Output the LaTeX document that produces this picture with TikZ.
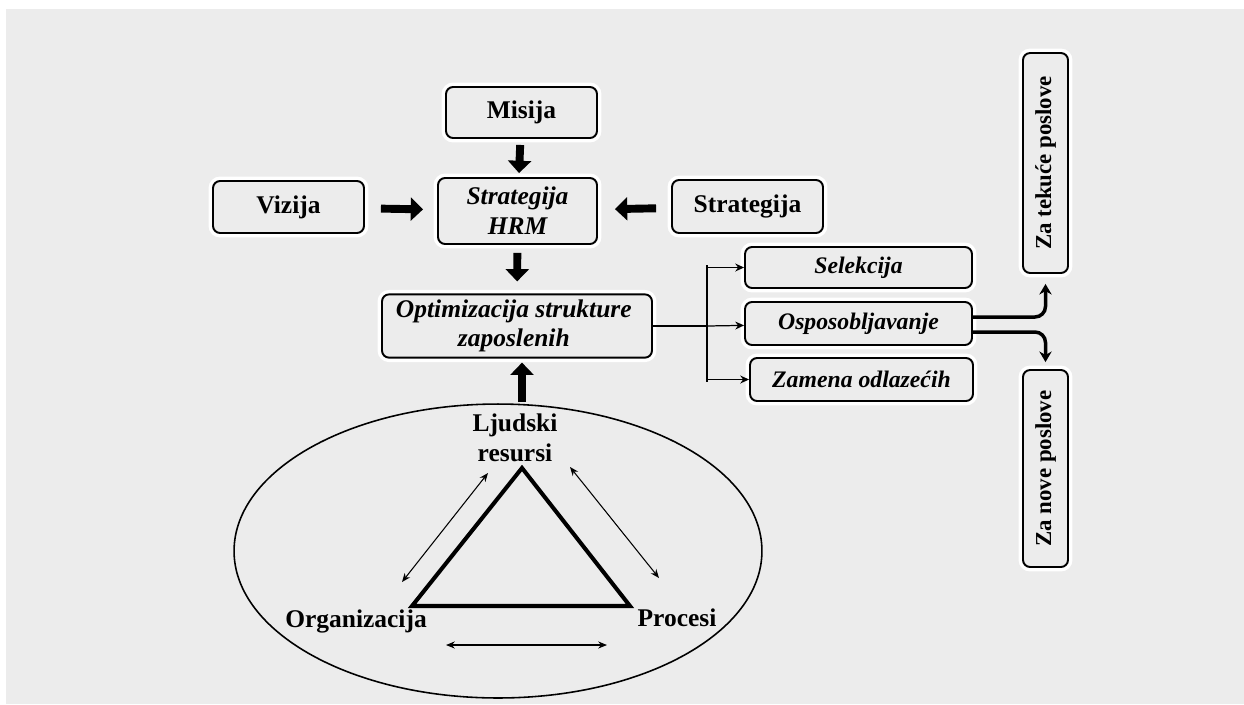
\documentclass[tikz,border=0pt]{standalone}
\usepackage{fontspec}
\setmainfont{Liberation Serif}
\usepackage{tikz}
\usetikzlibrary{arrows.meta}
\definecolor{bggray}{RGB}{236,236,236}

\tikzset{
  box/.style={draw,rectangle,rounded corners=4pt,line width=1.1pt,fill=bggray,
    preaction={draw=white,line width=5pt},align=center,inner sep=1pt,
    font=\fontsize{14.5}{17}\selectfont\bfseries},
  itbox/.style={box,font=\fontsize{14.5}{17}\selectfont\bfseries\itshape},
  smallbox/.style={box,font=\fontsize{13.5}{16}\selectfont\bfseries\itshape},
  vbox/.style={box,rotate=90,font=\fontsize{13}{16}\selectfont\bfseries},
  label/.style={align=center,inner sep=1pt,font=\fontsize{14.5}{17}\selectfont\bfseries},
  fat/.style={-{Triangle[width=13pt,length=7pt]},line width=4.5pt},
  thin/.style={-{Stealth[length=5pt,width=4.5pt]},line width=0.7pt},
  twoway/.style={{Stealth[length=5pt,width=4pt]}-{Stealth[length=5pt,width=4pt]},line width=0.6pt},
  split/.style={-{Stealth[length=6pt,width=7pt]},line width=2pt,rounded corners=6pt}
}

\begin{document}
\begin{tikzpicture}[x=0.02cm,y=-0.02cm]
% Background
\fill[white] (0,0) rectangle (1244,704);
\fill[bggray] (6,9) rectangle (1244,704);
\useasboundingbox (0,0) rectangle (1244,704);

% Top boxes
\node[box,minimum width=3.02cm,minimum height=1.02cm] (misija) at (521.5,112.5) {Misija};
\node[box,minimum width=3.02cm,minimum height=1.04cm] (vizija) at (288.5,207) {Vizija};
\node[itbox,minimum width=3.18cm,minimum height=1.32cm] (hrm) at (517.5,211) {Strategija\\HRM};
\node[box,minimum width=3.02cm,minimum height=1.06cm] (strat) at (747.5,206.5) {Strategija};

% Optimization box
\node[itbox,minimum width=5.4cm,minimum height=1.2cm] (optim) at (517,326) {
\begin{tabular}{c}
Optimizacija strukture\\
zaposlenih
\end{tabular}
};

% Branch boxes
\node[smallbox,minimum width=4.54cm,minimum height=0.82cm] (selek) at (858.5,267.5) {Selekcija};
\node[smallbox,minimum width=4.54cm,minimum height=0.86cm] (ospos) at (858.5,323.5) {Osposobljavanje};
\node[smallbox,minimum width=4.46cm,minimum height=0.86cm] (zamena) at (861.5,379.5) {Zamena odlazećih};

% Vertical boxes
\node[vbox,minimum width=4.4cm,minimum height=0.9cm] (tekuce) at (1045.5,163) {Za tekuće poslove};
\node[vbox,minimum width=3.94cm,minimum height=0.9cm] (nove) at (1045.5,468.5) {Za nove poslove};

% Fat arrows
\draw[fat,shorten <=0.12cm,shorten >=0.08cm] (misija) -- (hrm);
\draw[fat,shorten <=0.32cm,shorten >=0.28cm] (vizija) -- (hrm);
\draw[fat,shorten <=0.3cm,shorten >=0.34cm] (strat) -- (hrm);
\draw[fat,shorten <=0.16cm,shorten >=0.24cm] (hrm) -- (optim);

% Ellipse with triangle
\draw[line width=0.9pt] (498,551) ellipse [x radius=5.28cm,y radius=2.94cm];
\coordinate (lrtop) at (522,402);
\draw[fat,shorten >=0.08cm] (lrtop) -- (optim.south -| lrtop);
\coordinate (apex) at (522,468);
\coordinate (bl) at (412,606);
\coordinate (br) at (630,606);
\draw[line width=2.3pt,line join=miter] (apex) -- (bl) -- (br) -- cycle;

\node[label] (ljudi) at (515,438) {Ljudski\\resursi};
\node[label] (org) at (356,621) {Organizacija};
\node[label] (proc) at (677,618) {Procesi};

\coordinate (a1) at (402,582);
\coordinate (a2) at (488,473);
\coordinate (b1) at (570,467);
\coordinate (b2) at (659,578);
\coordinate (c1) at (446,645);
\coordinate (c2) at (607,645);
\draw[twoway] (a1) -- (a2);
\draw[twoway] (b1) -- (b2);
\draw[twoway] (c1) -- (c2);

% Branching
\coordinate (fork) at (707,326);
\coordinate (forktop) at (707,265);
\coordinate (forkbot) at (707,382);
\draw[line width=0.7pt] (optim.east) -- (fork);
\draw[line width=0.7pt] (forktop) -- (forkbot);
\draw[thin] (forktop |- selek) -- (selek);
\draw[thin] (fork) -- (ospos);
\draw[thin] (forkbot |- zamena) -- (zamena);

% Split to job boxes
\draw[split,shorten >=0.2cm] ([yshift=0.13cm]ospos.east) -| (tekuce.west);
\draw[split,shorten >=0.14cm] ([yshift=-0.17cm]ospos.east) -| (nove.east);
\end{tikzpicture}
\end{document}
